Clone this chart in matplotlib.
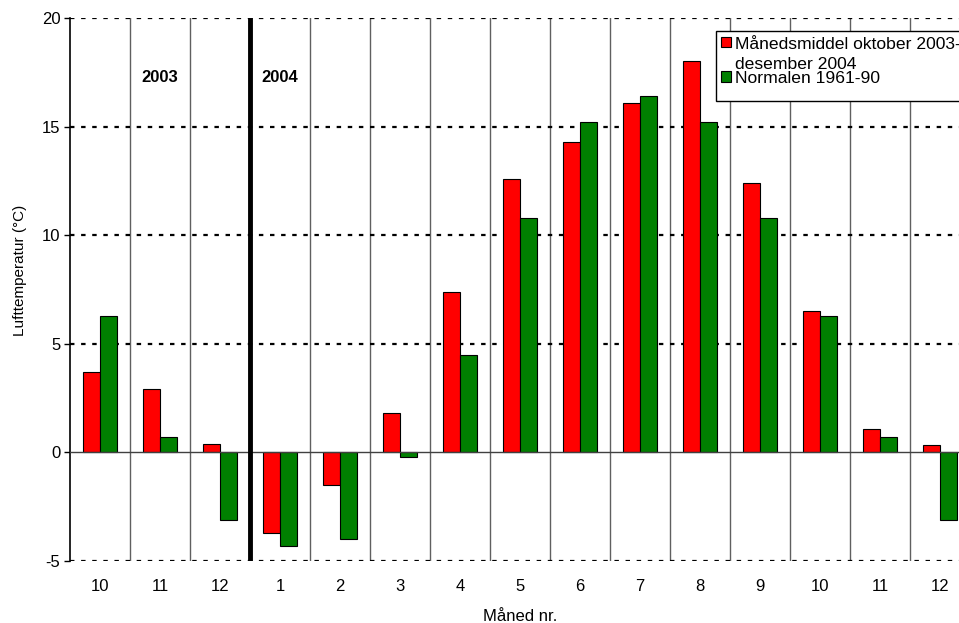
import matplotlib
matplotlib.use("Agg")
import matplotlib.pyplot as plt
from matplotlib.patches import Rectangle
import numpy as np

plt.rcParams['font.family'] = ['Liberation Sans', 'DejaVu Sans']

months = ["10", "11", "12", "1", "2", "3", "4", "5", "6", "7", "8", "9", "10", "11", "12"]
maanedsmiddel = [3.7, 2.9, 0.4, -3.7, -1.5, 1.8, 7.4, 12.6, 14.3, 16.1, 18.0, 12.4, 6.5, 1.1, 0.35]
normalen = [6.3, 0.7, -3.1, -4.3, -4.0, -0.2, 4.5, 10.8, 15.2, 16.4, 15.2, 10.8, 6.3, 0.7, -3.1]
year_labels = ["2003", "2004"]
year_positions = [1, 3]
label_red = ["Månedsmiddel oktober 2003-", "desember 2004"]
label_green = "Normalen 1961-90"

W, H = 959, 623
fig = plt.figure(figsize=(W/100, H/100), dpi=100)
ax = fig.add_axes([70/W, 1-561/H, 900/W, 543/H])

def fx(px):
    return px / W

def fy(py):
    return 1 - py / H

x = np.arange(len(months))
w = 0.29
ax.bar(x - w/2, maanedsmiddel, width=w, color='#ff0000', edgecolor='black', linewidth=0.8, zorder=3)
ax.bar(x + w/2, normalen, width=w, color='#008000', edgecolor='black', linewidth=0.8, zorder=3)

ax.set_xlim(-0.5, len(months) - 0.5)
ax.set_ylim(-5, 20)
ax.set_xticks(x)
ax.set_xticklabels(months, fontsize=12)
ax.tick_params(axis='x', length=0, pad=13)
ax.set_yticks([-5, 0, 5, 10, 15, 20])
ax.set_yticklabels(["-5", "0", "5", "10", "15", "20"], fontsize=12)
ax.tick_params(axis='y', length=4, width=1, direction='out', pad=3)

for s in ['top', 'bottom', 'right']:
    ax.spines[s].set_visible(False)
ax.spines['left'].set_linewidth(1.2)

# horizontal dotted gridlines
for yv in [-5, 5, 10, 15, 20]:
    ax.axhline(yv, color='black', linestyle=(0, (2.0, 3.0)), linewidth=1.6, zorder=2)
ax.axhline(0, color='#404040', linewidth=1.0, zorder=4)

# vertical separators
for b in np.arange(0.5, len(months) - 0.5, 1.0):
    if abs(b - 2.5) < 1e-6:
        ax.axvline(b, color='black', linewidth=3.5, zorder=5)
    else:
        ax.axvline(b, color='#606060', linewidth=1.0, zorder=1)

for lbl, pos in zip(year_labels, year_positions):
    ax.text(pos, 17.25, lbl, ha='center', va='center', fontsize=12, fontweight='bold')

ax.set_xlabel("Måned nr.", fontsize=12, labelpad=11)
ax.set_ylabel("Lufttemperatur (°C)", fontsize=11)
ax.yaxis.set_label_coords((27 - 70) / 900, (561 - 270.5) / 543)

# legend (drawn manually, clipped by the figure edge as in the reference)
fig.patches.append(Rectangle((fx(715.7), fy(100.7)), fx(980) - fx(715.7), fy(30.7) - fy(100.7),
                             transform=fig.transFigure, facecolor='white', edgecolor='black',
                             linewidth=1.0, zorder=10))
fig.patches.append(Rectangle((fx(720.7), fy(47.3)), fx(10), fy(37.3) - fy(47.3),
                             transform=fig.transFigure, facecolor='#ff0000', edgecolor='black',
                             linewidth=0.8, zorder=11))
fig.patches.append(Rectangle((fx(720.7), fy(81.7)), fx(10), fy(71.3) - fy(81.7),
                             transform=fig.transFigure, facecolor='#008000', edgecolor='black',
                             linewidth=0.8, zorder=11))
fig.text(fx(735), fy(49), label_red[0], fontsize=12.6, va='baseline', ha='left', zorder=12)
fig.text(fx(735), fy(69.3), label_red[1], fontsize=12.6, va='baseline', ha='left', zorder=12)
fig.text(fx(735), fy(83.3), label_green, fontsize=12.6, va='baseline', ha='left', zorder=12)

fig.savefig("out.png", dpi=100)
